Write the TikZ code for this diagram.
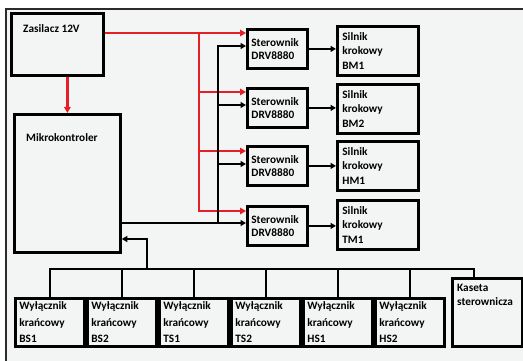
\documentclass[tikz,border=0pt]{standalone}
\usepackage{fontspec}
\setmainfont{Carlito}
\usetikzlibrary{arrows.meta}

\begin{document}
\begin{tikzpicture}[x=1pt, y=-1pt]

% =======================================================
% Color definitions
% =======================================================
\definecolor{pwrred}{HTML}{E61E26}    % 12V supply lines
\definecolor{bgfill}{HTML}{F3F5F5}    % sheet background
\definecolor{framegray}{HTML}{2B2B2B} % outer frame

% =======================================================
% Layout parameters
% =======================================================

% columns of drivers and motors
\def\drvx{246}
\def\motx{336}

% vertical buses (supply and control)
\def\redbus{199}
\def\sigbus{218}

% bottom row of switches
\def\swy{297}
\def\swbus{269}

% =======================================================
% Styles
% =======================================================
\tikzset{
  box/.style     = {draw, line width=2.8pt, anchor=north west, inner sep=0pt,
                    font=\bfseries\fontsize{11.3}{13.5}\selectfont},
  drvbox/.style  = {box, align=left, text width=52pt, inner xsep=4pt,
                    minimum height=39pt},
  motbox/.style  = {box, align=left, text width=71pt, inner xsep=5pt,
                    minimum height=49pt,
                    font=\bfseries\fontsize{11.3}{14.5}\selectfont},
  swbox/.style   = {box, align=left, text width=61pt, inner xsep=4pt,
                    minimum height=48pt,
                    font=\bfseries\fontsize{11.3}{16.5}\selectfont},
  toplbl/.style  = {anchor=north west, inner sep=0pt, align=left,
                    font=\bfseries\fontsize{11.3}{14}\selectfont},
  pwr/.style     = {pwrred, line width=2.8pt,
                    -{Triangle[length=6pt, width=6.5pt]}},
  pwrline/.style = {pwrred, line width=2.8pt},
  sig/.style     = {black, line width=2.4pt,
                    -{Triangle[length=5.5pt, width=6pt]}},
  sigline/.style = {black, line width=2.4pt},
}

\useasboundingbox (0,0) rectangle (523,361);

% =======================================================
% Sheet and frame
% =======================================================
\fill[bgfill] (6,9) rectangle (523,361);
\draw[framegray, line width=2.8pt] (523,9) -- (6,9) -- (6,361);

% =======================================================
% Supply and microcontroller
% =======================================================
\node[box, minimum width=92pt, minimum height=62pt,
      label={[toplbl, xshift=13pt, yshift=-12pt]north west:{Zasilacz 12V}}]
    (zas) at (10,12) {};

\node[box, minimum width=106pt, minimum height=138pt,
      label={[toplbl, xshift=13pt, yshift=-20pt]north west:{Mikrokontroler}}]
    (mcu) at (13,113) {};

% =======================================================
% Drivers and stepper motors
% =======================================================
\node[drvbox] (drv1) at (\drvx,28)  {Sterownik\\DRV8880};
\node[drvbox] (drv2) at (\drvx,87)  {Sterownik\\DRV8880};
\node[drvbox] (drv3) at (\drvx,145) {Sterownik\\DRV8880};
\node[drvbox] (drv4) at (\drvx,205) {Sterownik\\DRV8880};

\node[motbox] (mot1) at (\motx,25)  {Silnik\\krokowy\\BM1};
\node[motbox] (mot2) at (\motx,83)  {Silnik\\krokowy\\BM2};
\node[motbox] (mot3) at (\motx,140) {Silnik\\krokowy\\HM1};
\node[motbox] (mot4) at (\motx,199) {Silnik\\krokowy\\TM1};

% =======================================================
% Limit switches and control box
% =======================================================
\node[swbox] (sw1) at (14,\swy)  {Wyłącznik\\krańcowy\\BS1};
\node[swbox] (sw2) at (86,\swy)  {Wyłącznik\\krańcowy\\BS2};
\node[swbox] (sw3) at (158,\swy) {Wyłącznik\\krańcowy\\TS1};
\node[swbox] (sw4) at (230,\swy) {Wyłącznik\\krańcowy\\TS2};
\node[swbox] (sw5) at (302,\swy) {Wyłącznik\\krańcowy\\HS1};
\node[swbox] (sw6) at (374,\swy) {Wyłącznik\\krańcowy\\HS2};

\node[box, minimum width=70pt, minimum height=68pt,
      label={[toplbl, xshift=6pt, yshift=-7pt]north west:{Kaseta\\sterownicza}}]
    (kas) at (451,277) {};

% =======================================================
% Bus coordinates
% =======================================================
\coordinate (rb)  at (\redbus,0);
\coordinate (sb)  at (\sigbus,0);
\coordinate (swb) at (0,\swbus);
\coordinate (fb)  at (147,239);
\coordinate (kasin) at ([xshift=23pt]kas.north west);

% driver inputs: supply (upper) and control (lower)
\coordinate (r1) at ([yshift=-5pt]drv1.north west);
\coordinate (r2) at ([yshift=-5pt]drv2.north west);
\coordinate (r3) at ([yshift=-6pt]drv3.north west);
\coordinate (r4) at ([yshift=-6pt]drv4.north west);
\coordinate (s1) at ([yshift=-18pt]drv1.north west);
\coordinate (s2) at ([yshift=-18pt]drv2.north west);
\coordinate (s3) at ([yshift=-19pt]drv3.north west);
\coordinate (s4) at ([yshift=-18pt]drv4.north west);

% =======================================================
% 12V supply lines
% =======================================================
\draw[pwr] (zas.south -| mcu.north) -- (mcu.north);
\draw[pwr] (zas.east |- r1) -- (r1);
\draw[pwr] (rb |- r1) -- (rb |- r4) -- (r4);
\draw[pwr] (rb |- r2) -- (r2);
\draw[pwr] (rb |- r3) -- (r3);

% =======================================================
% Control lines
% =======================================================
\draw[sig] (mcu.east |- s4) -- (s4);
\draw[sig] (sb |- s4) -- (sb |- s1) -- (s1);
\draw[sig] (sb |- s2) -- (s2);
\draw[sig] (sb |- s3) -- (s3);

\draw[sig] (drv1.east) -- (drv1.east -| mot1.west);
\draw[sig] (drv2.east) -- (drv2.east -| mot2.west);
\draw[sig] (drv3.east) -- (drv3.east -| mot3.west);
\draw[sig] (drv4.east) -- (drv4.east -| mot4.west);

% switch bus
\draw[sigline] (sw1.north) -- (sw1.north |- swb) -- (kasin |- swb) -- (kasin);
\draw[sigline] (sw2.north) -- (sw2.north |- swb);
\draw[sigline] (sw3.north) -- (sw3.north |- swb);
\draw[sigline] (sw4.north) -- (sw4.north |- swb);
\draw[sigline] (sw5.north) -- (sw5.north |- swb);
\draw[sigline] (sw6.north) -- (sw6.north |- swb);

\draw[sig] (fb |- swb) -- (fb) -- (fb -| mcu.east);

\end{tikzpicture}
\end{document}
